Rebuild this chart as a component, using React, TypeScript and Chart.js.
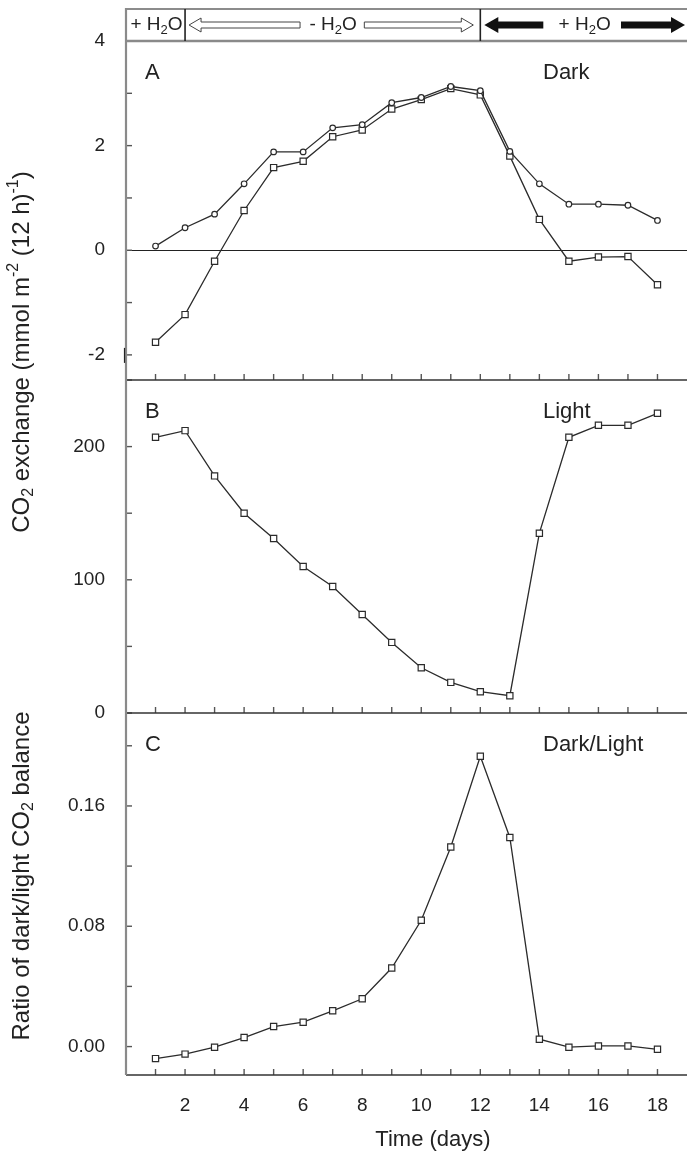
import React, { useEffect, useRef } from "react";
import { Chart, registerables } from "chart.js";

Chart.register(...registerables);

// ---------- data ----------
const days = [1, 2, 3, 4, 5, 6, 7, 8, 9, 10, 11, 12, 13, 14, 15, 16, 17, 18];
const darkOpen = [0.08, 0.43, 0.69, 1.27, 1.88, 1.88, 2.34, 2.40, 2.82, 2.92, 3.13, 3.05, 1.89, 1.27, 0.88, 0.88, 0.86, 0.57];
const darkSquare = [-1.76, -1.23, -0.21, 0.76, 1.58, 1.70, 2.17, 2.30, 2.70, 2.88, 3.09, 2.97, 1.80, 0.59, -0.21, -0.13, -0.12, -0.66];
const lightValues = [207, 212, 178, 150, 131, 110, 95, 74, 53, 34, 23, 16, 13, 135, 207, 216, 216, 225];
const ratioValues = [-0.008, -0.005, -0.0004, 0.006, 0.0133, 0.0162, 0.0238, 0.0318, 0.0522, 0.084, 0.1327, 0.193, 0.139, 0.0049, -0.0004, 0.0004, 0.0004, -0.0018];

const xTickLabels = [2, 4, 6, 8, 10, 12, 14, 16, 18];
const darkTickLabels = [4, 2, 0, -2];
const lightTickLabels = [200, 100, 0];
const ratioTickLabels = [0.16, 0.08, 0.0];

const panelLetters = ["A", "B", "C"];
const panelNames = ["Dark", "Light", "Dark/Light"];
const xTitle = "Time (days)";

// ---------- style ----------
const FONT = '"Liberation Sans", Arial, Helvetica, sans-serif';
const INK = "#222";
const TICK_SIZE = 19;
const HEADER_SIZE = 19;
const YTITLE_SIZE = 24;
const XTITLE_SIZE = 22;

type Seg = { t: string; k?: "sub" | "sup" };
const co2Title: Seg[] = [
  { t: "CO" }, { t: "2", k: "sub" }, { t: " exchange (mmol m" }, { t: "-2", k: "sup" },
  { t: " (12 h)" }, { t: "-1", k: "sup" }, { t: ")" },
];
const ratioTitle: Seg[] = [{ t: "Ratio of dark/light CO" }, { t: "2", k: "sub" }, { t: " balance" }];
const plusH2O: Seg[] = [{ t: "+ H" }, { t: "2", k: "sub" }, { t: "O" }];
const minusH2O: Seg[] = [{ t: "- H" }, { t: "2", k: "sub" }, { t: "O" }];

function drawRich(ctx: CanvasRenderingContext2D, segs: Seg[], cx: number, cy: number, size: number, rotate: boolean) {
  ctx.save();
  ctx.translate(cx, cy);
  if (rotate) ctx.rotate(-Math.PI / 2);
  ctx.fillStyle = INK;
  ctx.textBaseline = "middle";
  ctx.textAlign = "left";
  const fontFor = (s: Seg) => `${s.k ? Math.round(size * 0.68) : size}px ${FONT}`;
  let total = 0;
  for (const s of segs) {
    ctx.font = fontFor(s);
    total += ctx.measureText(s.t).width;
  }
  let x = -total / 2;
  for (const s of segs) {
    ctx.font = fontFor(s);
    const dy = s.k === "sub" ? size * 0.28 : s.k === "sup" ? -size * 0.36 : 0;
    ctx.fillText(s.t, x, dy);
    x += ctx.measureText(s.t).width;
  }
  ctx.restore();
}

function arrow(ctx: CanvasRenderingContext2D, xTail: number, xTip: number, y: number, sh: number, hh: number, hl: number, filled: boolean) {
  const d = Math.sign(xTip - xTail);
  const xb = xTip - d * hl;
  ctx.beginPath();
  ctx.moveTo(xTail, y - sh);
  ctx.lineTo(xb, y - sh);
  ctx.lineTo(xb, y - hh);
  ctx.lineTo(xTip, y);
  ctx.lineTo(xb, y + hh);
  ctx.lineTo(xb, y + sh);
  ctx.lineTo(xTail, y + sh);
  ctx.closePath();
  if (filled) {
    ctx.fillStyle = "#111";
    ctx.fill();
  } else {
    ctx.strokeStyle = "#444";
    ctx.lineWidth = 1;
    ctx.stroke();
  }
}

function hline(ctx: CanvasRenderingContext2D, x1: number, x2: number, y: number) {
  ctx.beginPath();
  ctx.moveTo(x1, y);
  ctx.lineTo(x2, y);
  ctx.stroke();
}
function vline(ctx: CanvasRenderingContext2D, x: number, y1: number, y2: number) {
  ctx.beginPath();
  ctx.moveTo(x, y1);
  ctx.lineTo(x, y2);
  ctx.stroke();
}

const decor = {
  id: "decor",
  beforeDatasetsDraw(chart: any) {
    const { ctx, chartArea: ca, scales } = chart;
    const xs = scales.x;
    const panels = [scales.yA, scales.yB, scales.yC];
    ctx.save();
    // zero line in panel A
    ctx.strokeStyle = "#222";
    ctx.lineWidth = 1.2;
    hline(ctx, ca.left, ca.right, Math.round(scales.yA.getPixelForValue(0)) + 0.5);
    // inward y ticks
    ctx.strokeStyle = "#555";
    ctx.lineWidth = 1.4;
    for (const s of panels) {
      for (const t of s.ticks) {
        const py = s.getPixelForValue(t.value);
        hline(ctx, ca.left, ca.left + 6, py);
      }
    }
    // inward x ticks on each panel bottom
    for (const s of panels) {
      for (const d of days) {
        const px = xs.getPixelForValue(d);
        vline(ctx, px, s.bottom, s.bottom - 6);
      }
    }
    // panel frame lines
    ctx.strokeStyle = "#333";
    ctx.lineWidth = 1.6;
    hline(ctx, ca.left, ca.right, scales.yB.top);
    hline(ctx, ca.left, ca.right, scales.yC.top);
    hline(ctx, ca.left, ca.right, scales.yC.bottom);
    ctx.strokeStyle = "#8a8a8a";
    ctx.lineWidth = 2.4;
    hline(ctx, ca.left, ca.right, scales.yA.top);
    // header top
    ctx.lineWidth = 1.6;
    ctx.strokeStyle = "#666";
    hline(ctx, ca.left, ca.right, 9);
    // left axis
    ctx.strokeStyle = "#8a8a8a";
    ctx.lineWidth = 2.2;
    vline(ctx, ca.left, 8, ca.bottom);
    // small break mark at -2
    ctx.strokeStyle = "#222";
    ctx.lineWidth = 1.2;
    const pm2 = scales.yA.getPixelForValue(-2);
    vline(ctx, ca.left - 1.5, pm2 - 7, pm2 + 8);
    ctx.restore();
  },
  afterDraw(chart: any) {
    const { ctx, chartArea: ca, scales } = chart;
    const xs = scales.x;
    ctx.save();
    // header
    const top = 9;
    const bot = scales.yA.top;
    const hy = (top + bot) / 2;
    const x2 = xs.getPixelForValue(2);
    const x12 = xs.getPixelForValue(12);
    ctx.strokeStyle = "#222";
    ctx.lineWidth = 1.6;
    vline(ctx, x2, top, bot);
    vline(ctx, x12, top, bot);
    drawRich(ctx, plusH2O, (ca.left + x2) / 2 + 1, hy, HEADER_SIZE, false);
    const mL = x2 + 4;
    const mR = x12 - 7;
    arrow(ctx, mL + 111, mL, hy, 3, 7, 12, false);
    arrow(ctx, mR - 109, mR, hy, 3, 7, 12, false);
    drawRich(ctx, minusH2O, (mL + mR) / 2 + 2, hy, HEADER_SIZE, false);
    const rL = x12 + 4;
    const rR = ca.right - 2;
    arrow(ctx, rL + 59, rL, hy, 3.5, 8, 14, true);
    arrow(ctx, rR - 64, rR, hy, 3.5, 8, 14, true);
    drawRich(ctx, plusH2O, (rL + rR) / 2, hy, HEADER_SIZE, false);

    // panel labels
    ctx.fillStyle = INK;
    ctx.font = `22px ${FONT}`;
    ctx.textBaseline = "middle";
    ctx.textAlign = "left";
    const panels = [scales.yA, scales.yB, scales.yC];
    panels.forEach((s: any, i: number) => {
      const y = s.top + 32;
      ctx.fillText(panelLetters[i], ca.left + 19, y);
      ctx.fillText(panelNames[i], ca.left + 417, y);
    });

    // y titles
    drawRich(ctx, co2Title, 22, 352, YTITLE_SIZE, true);
    drawRich(ctx, ratioTitle, 22, 876, YTITLE_SIZE, true);

    // x title
    ctx.font = `${XTITLE_SIZE}px ${FONT}`;
    ctx.textAlign = "center";
    ctx.textBaseline = "middle";
    ctx.fillStyle = INK;
    ctx.fillText(xTitle, 433, 1140);
    ctx.restore();
  },
};

function yScale(min: number, max: number, step: number, weight: number, labels: number[], digits: number) {
  return {
    type: "linear" as const,
    position: "left" as const,
    stack: "panels",
    stackWeight: weight,
    min,
    max,
    afterFit: (s: any) => {
      s.width = 126;
    },
    grid: { display: false, drawTicks: false },
    border: { display: false },
    ticks: {
      stepSize: step,
      includeBounds: false,
      autoSkip: false,
      padding: 21,
      color: INK,
      font: { family: FONT, size: TICK_SIZE },
      callback: (v: any) => {
        const hit = labels.find((l) => Math.abs(l - Number(v)) < step * 1e-3);
        return hit === undefined ? "" : hit.toFixed(digits);
      },
    },
  };
}

const pts = (vals: number[]) => days.map((d, i) => ({ x: d, y: vals[i] }));

export default function App() {
  const ref = useRef<HTMLCanvasElement>(null);
  useEffect(() => {
    const canvas = ref.current!;
    const common = {
      borderColor: "#2b2b2b",
      borderWidth: 1.3,
      pointBorderColor: "#2b2b2b",
      pointBackgroundColor: "#fff",
      pointBorderWidth: 1.2,
      tension: 0,
      fill: false,
    };
    const chart = new Chart(canvas, {
      type: "line",
      data: {
        datasets: [
          { ...common, label: "Dark (o)", data: pts(darkOpen), yAxisID: "yA", pointStyle: "circle", pointRadius: 2.8 },
          { ...common, label: "Dark (□)", data: pts(darkSquare), yAxisID: "yA", pointStyle: "rect", pointRadius: 4.4 },
          { ...common, label: "Light", data: pts(lightValues), yAxisID: "yB", pointStyle: "rect", pointRadius: 4.4 },
          { ...common, label: "Dark/Light", data: pts(ratioValues), yAxisID: "yC", pointStyle: "rect", pointRadius: 4.4 },
        ],
      },
      options: {
        responsive: false,
        animation: false,
        devicePixelRatio: 1,
        events: [],
        layout: { autoPadding: false, padding: { top: 41, left: 0, right: 0, bottom: 0 } },
        plugins: { legend: { display: false }, tooltip: { enabled: false }, title: { display: false } },
        scales: {
          x: {
            type: "linear",
            position: "bottom",
            min: 0,
            max: 19,
            afterFit: (s: any) => {
              s.height = 83;
              s.paddingLeft = 0;
              s.paddingRight = 0;
            },
            grid: { display: false, drawTicks: false },
            border: { display: false },
            ticks: {
              stepSize: 1,
              autoSkip: false,
              maxRotation: 0,
              padding: 19,
              color: INK,
              font: { family: FONT, size: TICK_SIZE },
              callback: (v: any) => (xTickLabels.includes(Number(v)) ? String(v) : ""),
            },
          },
          yC: yScale(-0.0189, 0.2218, 0.04, 362, ratioTickLabels, 2),
          yB: yScale(0, 250, 50, 333, lightTickLabels, 0),
          yA: yScale(-2.48, 4, 1, 339, darkTickLabels, 0),
        },
      } as any,
      plugins: [decor],
    });
    return () => chart.destroy();
  }, []);
  return (
    <div style={{ position: "absolute", left: 0, top: 0, width: 687, height: 1158, background: "#fff" }}>
      <canvas ref={ref} width={687} height={1158} style={{ display: "block", width: 687, height: 1158 }} />
    </div>
  );
}
